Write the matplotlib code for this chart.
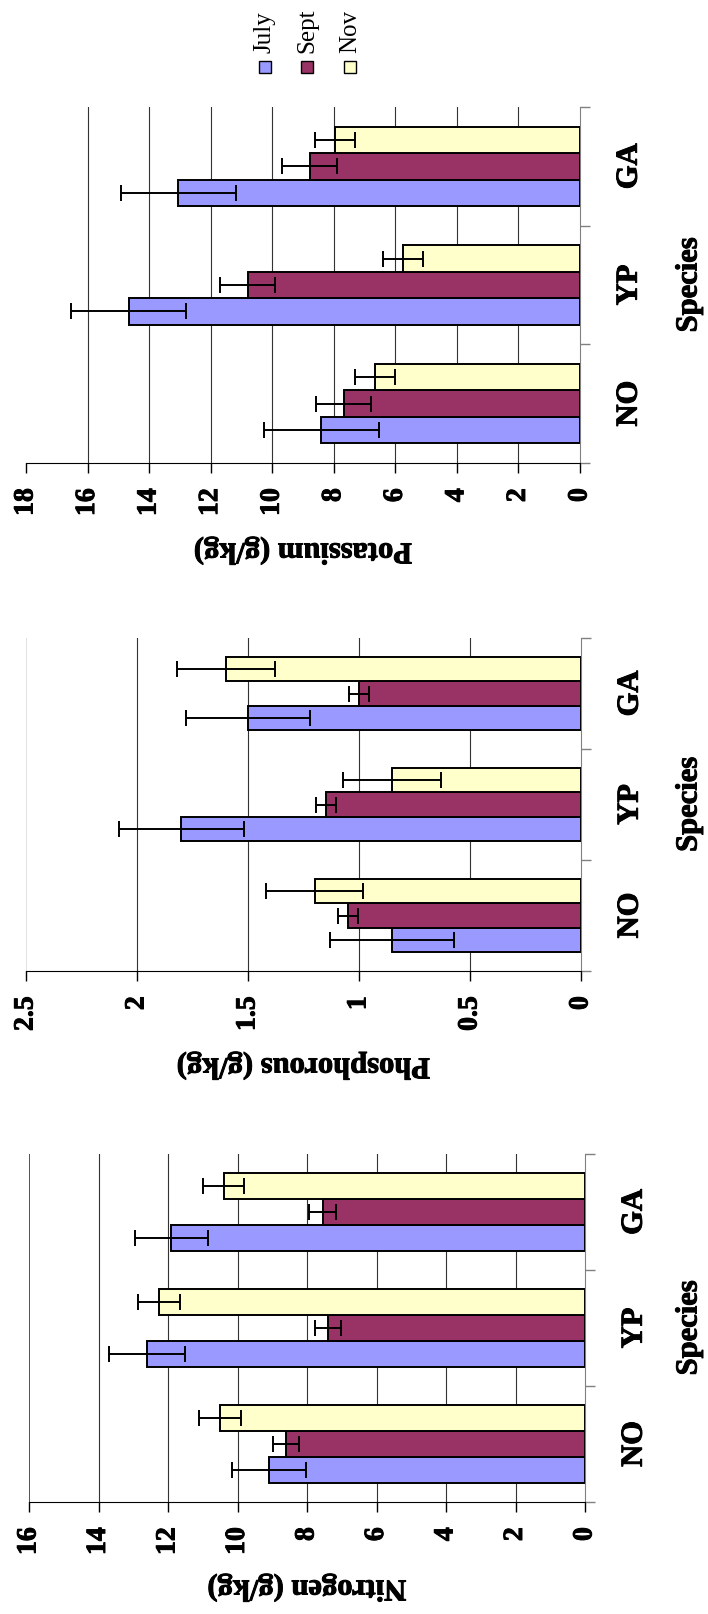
import numpy as np
import matplotlib
matplotlib.use('Agg')
import matplotlib.pyplot as plt
import matplotlib.patheffects as pe
from matplotlib.patches import Rectangle

# data
species = ['NO', 'YP', 'GA']
months = ['July', 'Sept', 'Nov']
colors = ['#9999FF', '#993366', '#FFFFCC']

pot_july = [8.4, 14.66, 13.05]
pot_sept = [7.68, 10.8, 8.78]
pot_nov = [6.66, 5.76, 7.95]
pot_july_err = [1.87, 1.87, 1.87]
pot_sept_err = [0.9, 0.9, 0.9]
pot_nov_err = [0.65, 0.65, 0.65]

phos_july = [0.85, 1.80, 1.50]
phos_sept = [1.05, 1.15, 1.00]
phos_nov = [1.20, 0.85, 1.60]
phos_july_err = [0.28, 0.28, 0.28]
phos_sept_err = [0.045, 0.045, 0.045]
phos_nov_err = [0.22, 0.22, 0.22]

nit_july = [9.1, 12.6, 11.9]
nit_sept = [8.6, 7.4, 7.55]
nit_nov = [10.5, 12.25, 10.4]
nit_july_err = [1.06, 1.1, 1.06]
nit_sept_err = [0.38, 0.38, 0.38]
nit_nov_err = [0.6, 0.6, 0.6]

pot_ticks = [0, 2, 4, 6, 8, 10, 12, 14, 16, 18]
pot_labels = ['0', '2', '4', '6', '8', '10', '12', '14', '16', '18']
phos_ticks = [0, 0.5, 1, 1.5, 2, 2.5]
phos_labels = ['0', '0.5', '1', '1.5', '2', '2.5']
nit_ticks = [0, 2, 4, 6, 8, 10, 12, 14, 16]
nit_labels = ['0', '2', '4', '6', '8', '10', '12', '14', '16']

W, H = 708, 1614
fig = plt.figure(figsize=(W / 100, H / 100), dpi=100)
serif = 'Liberation Serif'
heavy = [pe.withStroke(linewidth=0.7, foreground='black')]


def box(left, top, right, bottom):
    return [left / W, 1 - bottom / H, (right - left) / W, (bottom - top) / H]


panels = [
    dict(vals=[pot_july, pot_sept, pot_nov], errs=[pot_july_err, pot_sept_err, pot_nov_err],
         ticks=pot_ticks, labels=pot_labels, title='Potassium (g/kg)',
         px=(26, 107, 580, 463), edge=None, label_y=551),
    dict(vals=[phos_july, phos_sept, phos_nov], errs=[phos_july_err, phos_sept_err, phos_nov_err],
         ticks=phos_ticks, labels=phos_labels, title='Phosphorous (g/kg)',
         px=(26, 638, 581, 971), edge='#dddddd', label_y=1066),
    dict(vals=[nit_july, nit_sept, nit_nov], errs=[nit_july_err, nit_sept_err, nit_nov_err],
         ticks=nit_ticks, labels=nit_labels, title='Nitrogen (g/kg)',
         px=(29, 1154, 585, 1502), edge='#333333', label_y=1588),
]

bw = 0.222
y = np.arange(len(species))

for p in panels:
    left, top, right, bottom = p['px']
    ax = fig.add_axes(box(left, top, right, bottom))
    for k in range(3):
        ax.barh(y + (k - 1) * bw, p['vals'][k], height=bw, color=colors[k],
                edgecolor='black', linewidth=1.4, xerr=p['errs'][k],
                error_kw=dict(ecolor='black', elinewidth=1.4, capsize=6, capthick=1.4),
                zorder=3)
    ax.set_xlim(p['ticks'][-1], 0)
    ax.set_ylim(-0.5, 2.5)

    # vertical grid lines
    for t in p['ticks'][1:-1]:
        ax.axvline(t, color='#333333', lw=0.8, zorder=1)
    if p['edge']:
        ax.axvline(p['ticks'][-1], color=p['edge'], lw=1.2, zorder=1)

    ax.set_xticks(p['ticks'])
    ax.set_xticklabels(p['labels'], rotation=90, fontsize=20, fontweight='bold',
                       family=serif, path_effects=heavy)
    ax.tick_params(axis='x', direction='out', length=7.2, width=1, pad=11, color='black')

    ax.yaxis.tick_right()
    ax.set_yticks([-0.5, 0.5, 1.5, 2.5])
    ax.set_yticklabels([])
    ax.set_yticks(y, minor=True)
    ax.set_yticklabels(species, minor=True, rotation=90, fontsize=22, fontweight='bold',
                       family=serif, va='center', path_effects=heavy)
    ax.tick_params(axis='y', which='major', direction='out', length=7.2, width=1,
                   color='#808080', right=True, left=False)
    ax.tick_params(axis='y', which='minor', length=0, pad=25, right=True, left=False,
                   labelright=True, labelleft=False)

    ax.spines['top'].set_visible(False)
    ax.spines['left'].set_visible(False)
    ax.spines['right'].set_color('#808080')
    ax.spines['bottom'].set_color('black')

    sx = (689 - left) / (right - left)
    ax.text(sx, 0.5, 'Species', transform=ax.transAxes, rotation=90, ha='center',
            va='center', fontsize=22, fontweight='bold', family=serif, path_effects=heavy)
    ly = (bottom - p['label_y']) / (bottom - top)
    ax.text(0.5, ly, p['title'], transform=ax.transAxes, rotation=180, ha='center',
            va='center', fontsize=22, fontweight='bold', family=serif, path_effects=heavy)

# legend, turned like the rest of the chart
for i, m in enumerate(months):
    cx = [265, 307, 350][i]
    fig.patches.append(Rectangle(((cx - 6) / W, 1 - 73 / H), 12 / W, 12 / H,
                                 transform=fig.transFigure, facecolor=colors[i],
                                 edgecolor='black', linewidth=1))
    fig.text(cx / W, 1 - 53 / H, m, rotation=90, ha='center', va='bottom',
             fontsize=18, family=serif)

fig.savefig('out.png', dpi=100)
